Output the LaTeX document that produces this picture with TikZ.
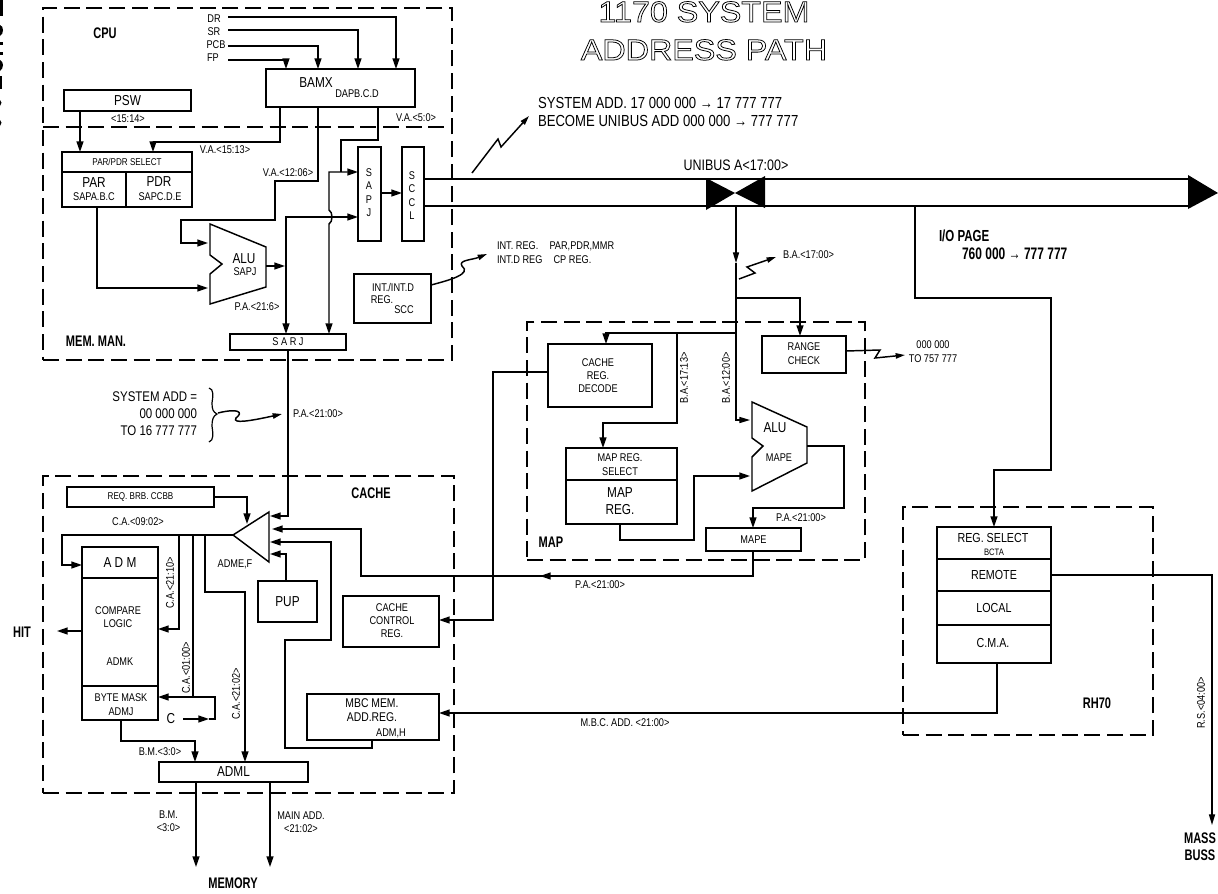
\documentclass[tikz,border=0pt]{standalone}
\usepackage{fontspec}
\usetikzlibrary{arrows.meta,calc}
\setmainfont[FakeStretch=0.82]{Liberation Sans}
\newfontfamily\ttlfont[FakeBold=2.6,FakeStretch=1.1]{Liberation Sans}
\newfontfamily\hvyfont[FakeStretch=0.72]{Liberation Sans Bold}
\newcommand{\ptpx}{0.75}
\tikzset{
  x=0.75pt,y=-0.75pt,
  every node/.style={inner sep=0pt,outer sep=0pt,font=\fontsize{8.4}{10}\selectfont,align=center},
  box/.style={draw,line width=1.1pt},
  dbox/.style={draw,line width=1.1pt,dash pattern=on 12pt off 5pt},
  wire/.style={line width=1.1pt,>={Triangle[length=8pt,width=5.2pt]}},
  thinw/.style={line width=0.9pt,>={Triangle[length=8pt,width=4.6pt]}},
  sq/.style={line width=1.1pt,>={Triangle[length=7pt,width=4pt]}},
  shp/.style={draw,line width=1.1pt,line join=miter},
  fs/.style={font=\fontsize{8.4}{10}\selectfont},
  fx/.style={font=\fontsize{7.4}{10}\selectfont},
  fm/.style={font=\fontsize{10.8}{13}\selectfont},
  fr/.style={font=\fontsize{9.8}{12}\selectfont},
  fh/.style={font=\hvyfont\fontsize{11.5}{13}\selectfont},
}
\newcommand{\bx}[7][box]{%
  \pgfmathsetmacro\bw{(#5-#3)*\ptpx}\pgfmathsetmacro\bh{(#6-#4)*\ptpx}%
  \node[#1,minimum width=\bw pt,minimum height=\bh pt] (#2) at ({(#3+#5)/2},{(#4+#6)/2}) {#7};}
\newcommand{\lb}[5][]{\node[#1] (#2) at (#3,#4) {#5};}
\newcommand{\ttl}[4]{\node[font=\ttlfont\fontsize{22}{24}\selectfont,anchor=base] (#1) at (#2,#3) {\special{pdf:code 1 1 1 rg 0 0 0 RG}#4};}
\begin{document}
\begin{tikzpicture}
\useasboundingbox (0,0) rectangle (1218,893);
\begin{scope}
\clip (0,0) rectangle (1218,893);
% clipped marks at the left edge
\fill (0,0) rectangle (3,16);
\fill (0,25) .. controls (4,26) and (4,34) .. (0,36) -- cycle;
\fill (0,42) rectangle (3,45); \fill (0,52) rectangle (3,55);
\fill (0,60) .. controls (4,62) and (4,68) .. (0,71) -- cycle;
\fill (0,76) rectangle (2,89);
\fill (0,100) .. controls (2,101) and (2,104) .. (0,106) -- cycle;
\fill (0,120) .. controls (2,121) and (2,124) .. (0,126) -- cycle;
% title
\ttl{t1}{704}{22}{1170 SYSTEM}
\ttl{t2}{704}{60}{ADDRESS PATH}
\end{scope}
% dashed regions
\bx[dbox]{cpubx}{43}{8}{452}{360}{}
\coordinate (cpuL) at (43,127); \coordinate (cpuR) at (452,127);
\draw[line width=1.1pt,dash pattern=on 12pt off 5pt] (cpuL) -- (cpuR);
\bx[dbox]{mapbx}{527}{322}{865}{560}{}
\bx[dbox]{cachebx}{43}{476}{454}{793}{}
\bx[dbox]{rhbx}{903}{507}{1153}{735}{}
% region labels
\lb[fh]{lcpu}{105}{33}{CPU}
\lb[fh]{lmm}{96}{341}{MEM. MAN.}
\lb[fh]{lmap}{551}{542}{MAP}
\lb[fh]{lcache}{371}{493}{CACHE}
\lb[fh]{lrh}{1097}{703}{RH70}
\lb[fh]{lhit}{22}{632}{HIT}
\lb[fh]{lmem}{233}{883}{MEMORY}
\lb[fh]{lmass}{1200}{847}{MASS\\BUSS}
% inputs
\coordinate (dr) at (228,17); \coordinate (sr) at (228,30); \coordinate (pcb) at (228,46); \coordinate (fp) at (228,60);
\lb[fs]{ldr}{214}{19}{DR}
\lb[fs]{lsr}{214}{32}{SR}
\lb[fs]{lpcb}{216}{45}{PCB}
\lb[fs]{lfp}{213}{58}{FP}
% CPU boxes
\bx{bamx}{266}{69}{415}{107}{}
\lb[fm]{tbamx}{316}{83}{BAMX}
\lb[fs]{tdapb}{357}{94}{DAPB.C.D}
\bx[box,fm]{psw}{64}{90}{191}{111}{PSW}
\bx[box,fx]{sel}{62}{152}{192}{172}{PAR/PDR SELECT}
\bx{par}{62}{172}{126}{207}{}
\bx{pdr}{126}{172}{192}{207}{}
\lb[fm]{tpar}{94}{183}{PAR}
\lb[fs]{tsapa}{94}{197}{SAPA.B.C}
\lb[fm]{tpdr}{159}{182}{PDR}
\lb[fs]{tsapc}{160}{197}{SAPC.D.E}
\bx{sapj}{358}{147}{381}{241}{}
\lb[fs]{tsapj}{369}{192.5}{S\\A\\P\\J}
\bx{sccl}{402}{147}{424}{241}{}
\lb[fs]{tsccl}{412}{195.5}{S\\C\\C\\L}
\bx[box,fs]{sarj}{230}{334}{346}{350}{S A R J}
\bx{intb}{354}{274}{431}{323}{}
\lb[fs]{tint}{393}{287}{INT./INT.D}
\lb[fs]{treg}{382}{300}{REG.}
\lb[fs]{tscc}{404}{310}{SCC}
% CPU ALU
\draw[shp] (210,224) -- (266,247) -- (266,287) -- (210,304) -- (210,274) -- (222,264) -- (210,255) -- cycle;
\lb[fm]{talu1}{244}{259}{ALU}
\lb[fs]{tsapj2}{245}{272}{SAPJ}
\coordinate (alu1a) at (208,243); \coordinate (alu1b) at (208,288); \coordinate (alu1o) at (266,266);
% CPU wires
\draw[wire,->] (dr) -- (396,17) -- (bamx.north -| 396,0);
\draw[wire,->] (sr) -- (358,30) -- (bamx.north -| 358,0);
\draw[wire,->] (pcb) -- (318,46) -- (bamx.north -| 318,0);
\draw[wire,->] (fp) -- (286,60) -- (bamx.north -| 286,0);
\draw[wire,->] (psw.south -| 80,0) -- (sel.north -| 80,0);
\draw[wire,->] (bamx.south -| 280,0) -- (280,142) -- (153,142) -- (sel.north -| 153,0);
\draw[wire,->] (bamx.south -| 318,0) -- (318,181) -- (275,181) -- (275,220) -- (181,220) -- (181,243) -- (alu1a);
\draw[wire,->] (par.south -| 97,0) -- (97,288) -- (alu1b);
\draw[wire] (bamx.south -| 378,0) -- (378,140) -- (341,140) -- (341,172);
\draw[wire,<->] (sarj.north -| 329,0) -- (329,224) .. controls (333,222) and (333,212) .. (329,210) -- (329,172) -- (sapj.west |- 0,172);
\draw[wire,->] (alu1o) -- (285,266);
\draw[wire,<->] (sarj.north -| 286,0) -- (286,217) -- (sapj.west |- 0,217);
\draw[wire,->] (sapj.east |- 0,193) -- (sccl.west |- 0,193);
% CPU labels
\lb[fs]{l1514}{128}{119}{<15:14>}
\lb[fs]{lva1}{225}{150}{V.A.<15:13>}
\lb[fs]{lva2}{288}{173}{V.A.<12:06>}
\lb[fs]{lva3}{416}{118}{V.A.<5:0>}
\lb[fs]{lpa1}{257}{307}{P.A.<21:6>}
% unibus
\coordinate (ubt) at (1188,179); \coordinate (ubb) at (1188,206);
\draw[wire] (sccl.east |- 0,179) -- (ubt);
\draw[wire] (sccl.east |- 0,206) -- (ubb);
\fill (1188,175) -- (1218,193) -- (1188,209) -- cycle;
\fill (706,178) -- (735,193) -- (706,210) -- cycle;
\fill (765,176) -- (735,193) -- (765,208) -- cycle;
\lb[font=\fontsize{11.4}{13}\selectfont]{lub}{736}{165}{UNIBUS A<17:00>}
\lb[font=\fontsize{12}{13.5}\selectfont,align=left,anchor=north west]{lsys}{538}{97}{SYSTEM ADD. 17 000 000 → 17 777 777\\BECOME UNIBUS ADD 000 000 → 777 777}
\coordinate (z1) at (472,173); \coordinate (z2) at (529,116);
\draw[sq,->] (z1) -- (498,139) -- (501,147) -- (z2);
% int reg
\lb[fs,anchor=west]{lint1}{497}{246}{INT. REG.\quad PAR,PDR,MMR}
\lb[fs,anchor=west]{lint2}{497}{260}{INT.D REG\quad CP REG.}
\coordinate (z3) at (487,254);
\draw[sq,->] (intb.east |- 0,285) .. controls (450,280) and (472,274) .. (462,266) .. controls (458,260) and (472,260) .. (z3);
% I/O page
\lb[font=\hvyfont\fontsize{12}{12}\selectfont,anchor=west]{lio}{939}{236}{I/O PAGE}
\lb[font=\hvyfont\fontsize{12.5}{12}\selectfont,anchor=west]{lio2}{962}{254}{760 000 → 777 777}
\bx{regs}{937}{527}{1051}{559}{}
\lb[fr]{tregs}{993}{538}{REG. SELECT}
\lb[font=\fontsize{7}{8}\selectfont]{tbcta}{994}{552}{BCTA}
\bx[box,fr]{rem}{937}{559}{1051}{591}{REMOTE}
\bx[box,fr]{loc}{937}{591}{1051}{625}{LOCAL}
\bx{cma}{937}{625}{1051}{663}{}
\lb[fr]{tcma}{993}{643}{C.M.A.}
\draw[wire,->] (ubb -| 915,0) -- (915,298) -- (1051,298) -- (1051,470) -- (994,470) -- (regs.north -| 994,0);
\coordinate (mbus) at (1212,825);
\draw[thinw,->] (rem.east) -- (1212,575) -- (mbus);
\lb[fs,rotate=90]{lrs}{1201}{703}{R.S.<04:00>}
% down from bowtie
\coordinate (dn) at (736,206); \coordinate (dn2) at (736,263);
\draw[thinw,->] (dn) -- (dn2);
\coordinate (z4) at (739,279); \coordinate (z5) at (776,257);
\draw[sq,->] (z4) -- (755,273) -- (747,267) -- (z5);
\lb[fs,anchor=west]{lba}{783}{255}{B.A.<17:00>}
% MAP boxes
\bx{rng}{762}{336}{846}{373}{}
\lb[fs]{trng}{804}{353.5}{RANGE\\CHECK}
\bx{crd}{548}{344}{652}{407}{}
\lb[fs]{tcrd}{598}{375.5}{CACHE\\REG.\\DECODE}
\bx{mrs}{566}{448}{677}{480}{}
\lb[fs]{tmrs}{620}{464.5}{MAP REG.\\SELECT}
\bx{mrg}{566}{480}{677}{524}{}
\lb[fm]{tmrg}{620}{501}{MAP\\REG.}
\bx[box,fs]{mape}{706}{528}{801}{551}{MAPE}
\draw[shp] (752,402) -- (807,427) -- (807,463) -- (752,491) -- (752,457) -- (763,446) -- (752,438) -- cycle;
\lb[fm]{talu2}{775}{428}{ALU}
\lb[fs]{tmape}{779}{458}{MAPE}
\coordinate (alu2a) at (750,420); \coordinate (alu2b) at (750,476); \coordinate (alu2o) at (807,446);
\draw[thinw,->] (dn2) -- (736,420) -- (alu2a);
\draw[wire,->] (736,298) -- (800,298) -- (rng.north -| 800,0);
\draw[wire,->] (736,333) -- (606,333) -- (crd.north -| 606,0);
\draw[wire,->] (677,333) -- (677,423) -- (603,423) -- (mrs.north -| 603,0);
\draw[wire,->] (mrg.south -| 620,0) -- (620,540) -- (694,540) -- (694,476) -- (alu2b);
\draw[wire,->] (alu2o) -- (844,446) -- (844,508) -- (753,508) -- (mape.north -| 753,0);
\lb[fs,rotate=90]{lba1}{684}{378}{B.A.<17:13>}
\lb[fs,rotate=90]{lba2}{726}{378}{B.A.<12:00>}
\lb[fs]{lpa2}{801}{518}{P.A.<21:00>}
\coordinate (z6) at (905,355);
\draw[sq,->] (rng.east |- 0,351) -- (880,350) -- (875,358) -- (z6);
\lb[fs]{lrc}{933}{351.5}{000 000\\TO 757 777}
% System add
\lb[font=\fontsize{10.5}{12.8}\selectfont,align=right,anchor=east]{lsa}{197}{414}{SYSTEM ADD =\\00 000 000\\TO 16 777 777}
\coordinate (br) at (217,414);
\draw[line width=0.9pt] (209,388) .. controls (214,389) and (213,396) .. (212,403) .. controls (212,409) and (213,412) .. (br) .. controls (213,416) and (212,420) .. (212,426) .. controls (213,434) and (214,440) .. (209,442);
\coordinate (z7) at (218,413); \coordinate (z8) at (282,414);
\draw[sq,->] (z7) .. controls (238,408) and (244,412) .. (236,418) .. controls (232,424) and (250,421) .. (z8);
\lb[fs]{lpa3}{318}{414}{P.A.<21:00>}
% Cache boxes
\bx[box,fx]{req}{67}{487}{214}{507}{REQ. BRB. CCBB}
\draw[shp] (233,535) -- (269,512) -- (269,562) -- cycle;
\coordinate (bufT) at (233,535);
\lb[fs]{tadme}{235}{564}{ADME,F}
\bx[box,fm]{pup}{258}{581}{317}{622}{PUP}
\bx{ccr}{343}{596}{439}{647}{}
\lb[fs]{tccr}{392}{620.5}{CACHE\\CONTROL\\REG.}
\bx{mbc}{307}{694}{439}{740}{}
\lb[font=\fontsize{9.5}{11}\selectfont]{tmbc}{372}{710}{MBC MEM.\\ADD.REG.}
\lb[fs]{tadmh}{391}{733}{ADM,H}
\bx[box,fm]{adm}{82}{547}{158}{578}{A D M}
\bx{cmp}{82}{578}{158}{686}{}
\lb[fs]{tcmp}{118}{617}{COMPARE\\LOGIC}
\lb[fs]{tadmk}{120}{662}{ADMK}
\bx{byt}{82}{686}{158}{720}{}
\lb[fs]{tbyt}{121}{704.5}{BYTE MASK\\ADMJ}
\bx[box,fm]{adml}{159}{762}{308}{782}{ADML}
% Cache wires
\draw[wire,->] (sarj.south -| 288,0) -- (288,516) -- (270,516);
\draw[wire,->] (req.east) -- (247,497) -- (247,524);
\draw[wire,->] (mape.south -| 753,0) -- (753,576) -- (361,576) -- (361,529) -- (272,529);
\coordinate (mpm) at (540,576);
\draw[wire,->] (600,576) -- (mpm);
\draw[wire,->] (mbc.south -| 372,0) -- (372,748) -- (285,748) -- (285,640) -- (331,640) -- (331,542) -- (270,542);
\draw[wire,->] (pup.north -| 286,0) -- (286,554) -- (270,554);
\draw[wire,->] (bufT) -- (62,535) -- (62,565) -- (adm.west |- 0,565);
\draw[wire,->] (179,535) -- (179,629) -- (cmp.east |- 0,629);
\draw[wire,->] (193,535) -- (193,697) -- (byt.east |- 0,697);
\coordinate (cin) at (183,719);
\draw[wire,->] (cin) -- (209,719);
\draw[wire] (209,719) -- (215,719) -- (215,697) -- (193,697);
\draw[wire,->] (205,535) -- (205,592) -- (245,592) -- (adml.north -| 245,0);
\coordinate (hit) at (57,631);
\draw[wire,->] (cmp.west |- 0,631) -- (hit);
\draw[wire,->] (byt.south -| 121,0) -- (121,741) -- (195,741) -- (adml.north -| 195,0);
\coordinate (mem1) at (196,867); \coordinate (mem2) at (270,867);
\draw[wire,->] (adml.south -| 196,0) -- (mem1);
\draw[wire,->] (adml.south -| 270,0) -- (mem2);
\draw[wire,->] (crd.west |- 0,372) -- (493,372) -- (493,620) -- (ccr.east |- 0,620);
\draw[wire,->] (cma.south -| 997,0) -- (997,713) -- (mbc.east |- 0,713);
% Cache labels
\lb[fs]{lca0}{138}{522}{C.A.<09:02>}
\lb[fs,rotate=90]{lca1}{170}{583}{C.A.<21:10>}
\lb[fs,rotate=90]{lca2}{186}{668}{C.A.<01:00>}
\lb[fs,rotate=90]{lca3}{236}{694}{C.A.<21:02>}
\lb[fm]{lc}{171}{719}{C}
\lb[fs]{lbm}{160}{752}{B.M.<3:0>}
\lb[fs]{lbm2}{168.5}{821}{B.M.\\<3:0>}
\lb[fs]{lmain}{301}{822.5}{MAIN ADD.\\<21:02>}
\lb[fs]{lpa4}{600}{585}{P.A.<21:00>}
\lb[fs]{lmbc}{625}{723}{M.B.C. ADD. <21:00>}
\end{tikzpicture}
\end{document}
